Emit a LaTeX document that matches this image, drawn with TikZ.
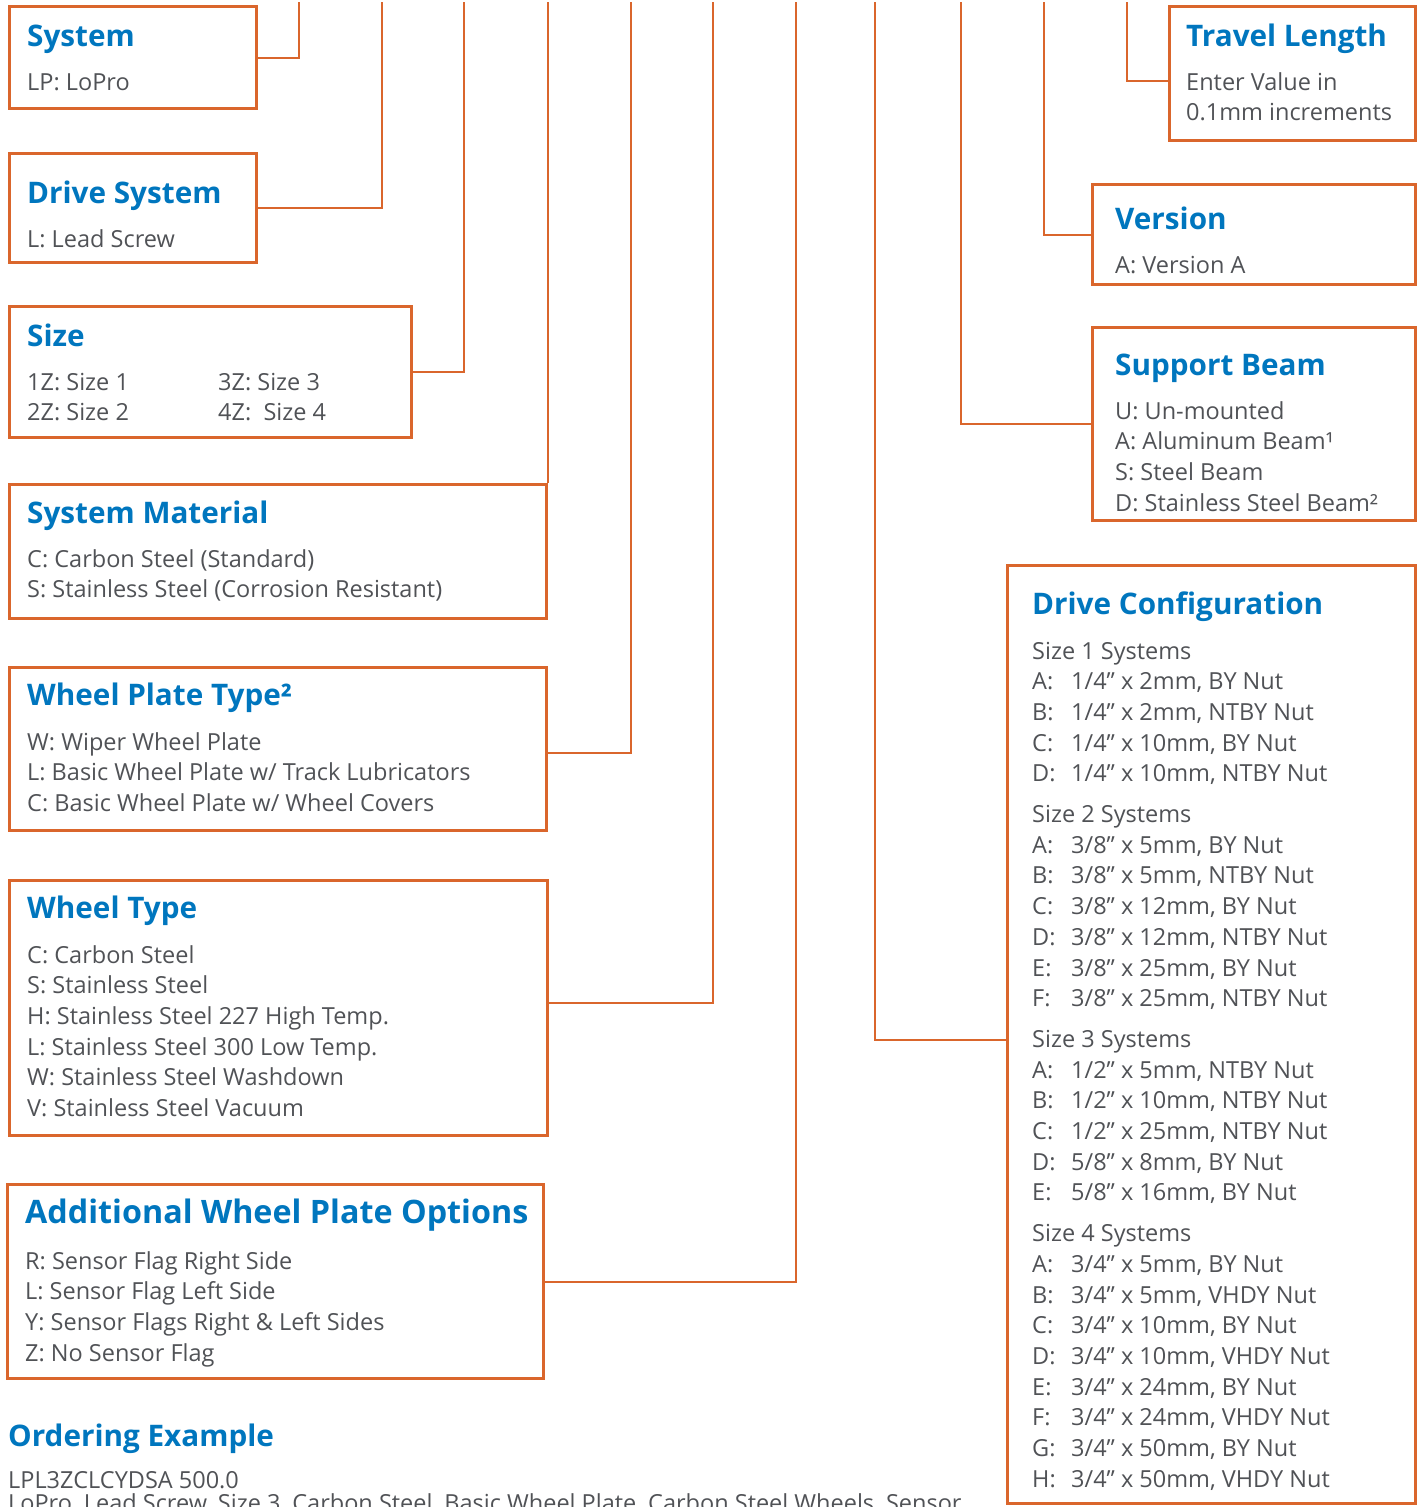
\documentclass[tikz,border=0pt]{standalone}
\usepackage{fontspec}
\setmainfont{Open Sans}
\usepackage{xcolor}
\usepackage{tikz}

\definecolor{boxorange}{RGB}{218,102,44}
\definecolor{titleblue}{RGB}{0,118,190}
\definecolor{textgray}{RGB}{80,82,86}

% stacked lines, baseline on the first line
\newcommand{\optlines}[1]{\begin{tabular}[t]{@{}l@{}}#1\end{tabular}}
% one line of the drive configuration list
\newcommand{\cfgitem}[2]{\makebox[39pt][l]{#1:}#2}

\begin{document}
\begin{tikzpicture}[x=1pt,y=-1pt,
    optbox/.style={draw=boxorange, line width=2.6pt, inner sep=0pt},
    conn/.style={draw=boxorange, line width=2pt},
    ttl/.style={anchor=base west, inner sep=0pt, text=titleblue,
        font=\fontsize{29.7}{36}\selectfont\bfseries},
    body/.style={anchor=base west, inner sep=0pt, text=textgray,
        font=\fontsize{23.5}{30.7}\selectfont}]
    \useasboundingbox (0,0) rectangle (1421,1507);

    % Left column boxes
    \node[optbox, minimum width=247pt, minimum height=102pt] (system) at (133,57.5) {};
    \node[ttl] (systemT) at (27,46) {System};
    \node[body] (systemB) at (27,90) {LP: LoPro};

    \node[optbox, minimum width=247pt, minimum height=109pt] (drive) at (133,208) {};
    \node[ttl] (driveT) at (27,203) {Drive System};
    \node[body] (driveB) at (27,247) {L: Lead Screw};

    \node[optbox, minimum width=402pt, minimum height=131pt] (size) at (210.5,372) {};
    \node[ttl] (sizeT) at (27,346) {Size};
    \node[body] (sizeB) at (27,390) {\optlines{1Z: Size 1\\2Z: Size 2}};
    \node[body] (sizeC) at (218,390) {\optlines{3Z: Size 3\\4Z:\ \ Size 4}};

    \node[optbox, minimum width=537pt, minimum height=134pt] (material) at (278,551.5) {};
    \node[ttl] (materialT) at (27,523) {System Material};
    \node[body] (materialB) at (27,567) {\optlines{C: Carbon Steel (Standard)\\S: Stainless Steel (Corrosion Resistant)}};

    \node[optbox, minimum width=537pt, minimum height=163pt] (plate) at (278,749) {};
    \node[ttl] (plateT) at (27,705) {Wheel Plate Type²};
    \node[body] (plateB) at (27,750) {\optlines{W: Wiper Wheel Plate\\L: Basic Wheel Plate w/ Track Lubricators\\C: Basic Wheel Plate w/ Wheel Covers}};

    \node[optbox, minimum width=538pt, minimum height=255pt] (wheel) at (278.5,1008) {};
    \node[ttl] (wheelT) at (27,918) {Wheel Type};
    \node[body] (wheelB) at (27,963) {\optlines{C: Carbon Steel\\S: Stainless Steel\\H: Stainless Steel 227 High Temp.\\L: Stainless Steel 300 Low Temp.\\W: Stainless Steel Washdown\\V: Stainless Steel Vacuum}};

    \node[optbox, minimum width=536pt, minimum height=194pt] (addopt) at (275.5,1281.5) {};
    \node[ttl, font=\fontsize{32.3}{38}\selectfont\bfseries] (addoptT) at (25,1223) {Additional Wheel Plate Options};
    \node[body] (addoptB) at (25,1269) {\optlines{R: Sensor Flag Right Side\\L: Sensor Flag Left Side\\Y: Sensor Flags Right \& Left Sides\\Z: No Sensor Flag}};

    % Ordering example
    \node[ttl] (orderT) at (8,1446) {Ordering Example};
    \node[body] (orderB) at (8,1488) {LPL3ZCLCYDSA 500.0};
    \node[body] (orderC) at (8,1511) {LoPro, Lead Screw, Size 3, Carbon Steel, Basic Wheel Plate, Carbon Steel Wheels, Sensor};

    % Right column boxes
    \node[optbox, minimum width=246pt, minimum height=134pt] (travel) at (1292.5,73.5) {};
    \node[ttl] (travelT) at (1186,46) {Travel Length};
    \node[body] (travelB) at (1186,90) {\optlines{Enter Value in\\0.1mm increments}};

    \node[optbox, minimum width=323pt, minimum height=100pt] (version) at (1254,234.5) {};
    \node[ttl] (versionT) at (1115,229) {Version};
    \node[body] (versionB) at (1115,273) {A: Version A};

    \node[optbox, minimum width=323pt, minimum height=193pt] (beam) at (1254,424) {};
    \node[ttl] (beamT) at (1115,375) {Support Beam};
    \node[body] (beamB) at (1115,419) {\optlines{U: Un-mounted\\A: Aluminum Beam¹\\S: Steel Beam\\D: Stainless Steel Beam²}};

    \node[optbox, minimum width=408pt, minimum height=938pt] (config) at (1211.5,1034.5) {};
    \node[ttl] (configT) at (1032,614) {Drive Configuration};
    \node[body] (configB) at (1032,659) {\optlines{Size 1 Systems\\
        \cfgitem{A}{1/4” x 2mm, BY Nut}\\
        \cfgitem{B}{1/4” x 2mm, NTBY Nut}\\
        \cfgitem{C}{1/4” x 10mm, BY Nut}\\
        \cfgitem{D}{1/4” x 10mm, NTBY Nut}\\[10pt]
        Size 2 Systems\\
        \cfgitem{A}{3/8” x 5mm, BY Nut}\\
        \cfgitem{B}{3/8” x 5mm, NTBY Nut}\\
        \cfgitem{C}{3/8” x 12mm, BY Nut}\\
        \cfgitem{D}{3/8” x 12mm, NTBY Nut}\\
        \cfgitem{E}{3/8” x 25mm, BY Nut}\\
        \cfgitem{F}{3/8” x 25mm, NTBY Nut}\\[10pt]
        Size 3 Systems\\
        \cfgitem{A}{1/2” x 5mm, NTBY Nut}\\
        \cfgitem{B}{1/2” x 10mm, NTBY Nut}\\
        \cfgitem{C}{1/2” x 25mm, NTBY Nut}\\
        \cfgitem{D}{5/8” x 8mm, BY Nut}\\
        \cfgitem{E}{5/8” x 16mm, BY Nut}\\[10pt]
        Size 4 Systems\\
        \cfgitem{A}{3/4” x 5mm, BY Nut}\\
        \cfgitem{B}{3/4” x 5mm, VHDY Nut}\\
        \cfgitem{C}{3/4” x 10mm, BY Nut}\\
        \cfgitem{D}{3/4” x 10mm, VHDY Nut}\\
        \cfgitem{E}{3/4” x 24mm, BY Nut}\\
        \cfgitem{F}{3/4” x 24mm, VHDY Nut}\\
        \cfgitem{G}{3/4” x 50mm, BY Nut}\\
        \cfgitem{H}{3/4” x 50mm, VHDY Nut}}};

    % Connector ends along the top edge
    \coordinate (topA) at (299,2);
    \coordinate (topB) at (382,2);
    \coordinate (topC) at (464,2);
    \coordinate (topD) at (547,2);
    \coordinate (topE) at (631,2);
    \coordinate (topF) at (713,2);
    \coordinate (topG) at (796,2);
    \coordinate (topH) at (875,2);
    \coordinate (topI) at (961,2);
    \coordinate (topJ) at (1044,2);
    \coordinate (topK) at (1127,2);

    % Connectors
    \draw[conn] (system.east) -| (topA);
    \draw[conn] (drive.east) -| (topB);
    \draw[conn] (size.east) -| (topC);
    \draw[conn] (material.north east) -- (material.north east |- topD);
    \draw[conn] ([yshift=-4pt]plate.east) -| (topE);
    \draw[conn] ([yshift=5pt]wheel.east) -| (topF);
    \draw[conn] (addopt.east) -| (topG);
    \draw[conn] ([yshift=-5.5pt]config.west) -| (topH);
    \draw[conn] (beam.west) -| (topI);
    \draw[conn] (version.west) -| (topJ);
    \draw[conn] ([yshift=-7.5pt]travel.west) -| (topK);
\end{tikzpicture}
\end{document}
